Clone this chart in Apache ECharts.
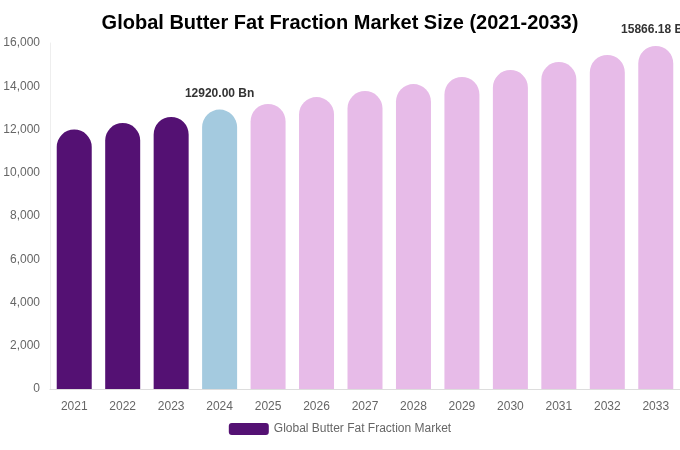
<!DOCTYPE html>
<html><head><meta charset="utf-8">
<script src="https://cdn.jsdelivr.net/npm/echarts@6/dist/echarts.min.js"></script>
<style>html,body{margin:0;padding:0}#c{width:680px;height:450px}</style>
</head><body><div id="c"></div>
<script>
var categories=['2021','2022','2023','2024','2025','2026','2027','2028','2029','2030','2031','2032','2033'];
var values=[12000,12300,12580,12920,13180,13500,13780,14100,14430,14750,15120,15450,15866.18];
var colors=['#541173','#541173','#541173','#a4cadf','#e7bbe8','#e7bbe8','#e7bbe8','#e7bbe8','#e7bbe8','#e7bbe8','#e7bbe8','#e7bbe8','#e7bbe8'];
var labelled=[3,12];
var chart=echarts.init(document.getElementById('c'));
chart.setOption({
  title:{text:'Global Butter Fat Fraction Market Size (2021-2033)',left:'center',top:8,textStyle:{fontSize:20,fontWeight:'bold',color:'#000',fontFamily:'Liberation Sans, Arial'}},
  legend:{bottom:10,itemWidth:40,itemHeight:12,textStyle:{color:'#666',fontSize:12},data:['Global Butter Fat Fraction Market']},
  grid:{left:50,right:0,top:43,bottom:61},
  xAxis:{type:'category',data:categories,axisLine:{lineStyle:{color:'#ddd'}},axisTick:{show:false},axisLabel:{color:'#666',fontSize:12,margin:12}},
  yAxis:{type:'value',min:0,max:16000,interval:2000,axisLine:{show:true,lineStyle:{color:'#eee'}},splitLine:{show:false},axisLabel:{color:'#666',fontSize:12,margin:10,formatter:function(v){return v.toLocaleString('en-US');}}},
  series:[{name:'Global Butter Fat Fraction Market',type:'bar',barWidth:35,
    itemStyle:{color:'#541173'},
    data:values.map(function(v,i){return {value:v,itemStyle:{color:colors[i],borderRadius:[17.5,17.5,0,0]},
      label:{show:labelled.indexOf(i)>=0,position:'top',distance:10,fontWeight:'bold',fontSize:12,color:'#333',formatter:function(p){return p.value.toFixed(2)+' Bn';}}};})
  }]
});
</script></body></html>
